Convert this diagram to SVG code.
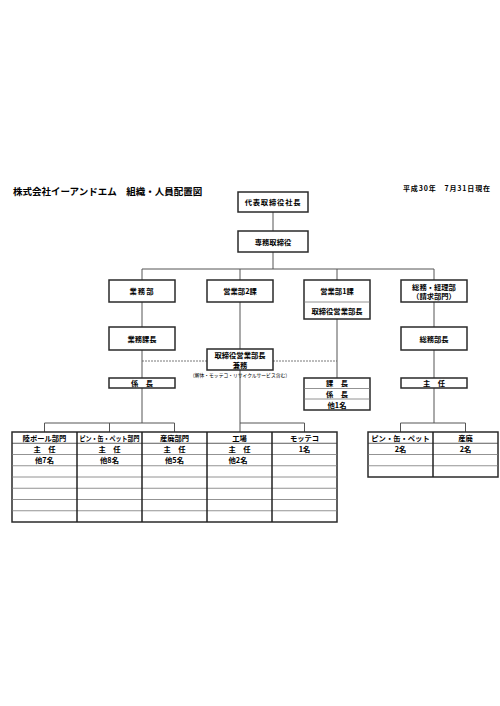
<svg xmlns="http://www.w3.org/2000/svg" width="500" height="706" viewBox="0 0 500 706">
<style>
.bx{fill:#fff;stroke:#2a2a2a;stroke-width:1.5}
.ln{stroke:#555;stroke-width:1;fill:none}
.ds{stroke:#555;stroke-width:0.8;stroke-dasharray:2 1;fill:none}
.hl{stroke:#777;stroke-width:0.8}
.vl{stroke:#222;stroke-width:1.5}
.t{font-family:"Noto Sans CJK JP","Noto Sans CJK SC",sans-serif;font-size:7.3px;font-weight:bold;text-anchor:middle;dominant-baseline:central;fill:#000}
</style>
<rect width="500" height="706" fill="#fff"/>
<g id="title"><text class="t" x="13" y="191" style="text-anchor:start;font-size:9.5px">株式会社イーアンドエム　組織・人員配置図</text></g>
<g id="date"><text class="t" x="490" y="188" style="text-anchor:end;font-size:7px" textLength="87" lengthAdjust="spacing">平成30年　7月31日現在</text></g>

<g id="connectors">
<line class="ln" x1="273" y1="212" x2="273" y2="231"/>
<line class="ln" x1="273" y1="252" x2="273" y2="269"/>
<line class="ln" x1="142" y1="269" x2="434" y2="269"/>
<line class="ln" x1="142" y1="269" x2="142" y2="280"/>
<line class="ln" x1="240" y1="269" x2="240" y2="280"/>
<line class="ln" x1="337" y1="269" x2="337" y2="280"/>
<line class="ln" x1="434" y1="269" x2="434" y2="280"/>
<line class="ln" x1="142" y1="302" x2="142" y2="327"/>
<line class="ln" x1="142" y1="350" x2="142" y2="378"/>
<line class="ln" x1="142" y1="388" x2="142" y2="423"/>
<line class="ln" x1="44.5" y1="423" x2="174.5" y2="423"/>
<line class="ln" x1="44.5" y1="423" x2="44.5" y2="432"/>
<line class="ln" x1="109.5" y1="423" x2="109.5" y2="432"/>
<line class="ln" x1="174.5" y1="423" x2="174.5" y2="432"/>
<line class="ln" x1="240" y1="302" x2="240" y2="349"/>
<line class="ln" x1="240" y1="370" x2="240" y2="432"/>
<line class="ln" x1="240" y1="423" x2="304.5" y2="423"/>
<line class="ln" x1="304.5" y1="423" x2="304.5" y2="432"/>
<line class="ln" x1="337" y1="319" x2="337" y2="378"/>
<line class="ln" x1="434" y1="302" x2="434" y2="327"/>
<line class="ln" x1="434" y1="350" x2="434" y2="378"/>
<line class="ln" x1="434" y1="388" x2="434" y2="423"/>
<line class="ln" x1="400.5" y1="423" x2="465.5" y2="423"/>
<line class="ln" x1="400.5" y1="423" x2="400.5" y2="432"/>
<line class="ln" x1="465.5" y1="423" x2="465.5" y2="432"/>
<line class="ds" x1="142" y1="361" x2="207" y2="361"/>
<line class="ds" x1="273" y1="361" x2="337" y2="361"/>
</g>

<g id="president"><rect class="bx" x="238" y="192" width="70" height="20"/><text class="t" x="273" y="202" style="letter-spacing:0.8px">代表取締役社長</text></g>
<g id="senmu"><rect class="bx" x="238" y="231" width="70" height="21"/><text class="t" x="273" y="241.5">専務取締役</text></g>

<g id="gyomubu"><rect class="bx" x="109" y="280" width="66" height="22"/><text class="t" x="142" y="291" style="letter-spacing:1px">業務部</text></g>
<g id="eigyo2"><rect class="bx" x="207" y="280" width="66" height="22"/><text class="t" x="240" y="291">営業部2課</text></g>
<g id="eigyo1"><rect class="bx" x="304" y="280" width="66" height="39"/><line class="hl" x1="304" y1="302" x2="370" y2="302"/><text class="t" x="337" y="291">営業部1課</text><text class="t" x="337" y="310.5">取締役営業部長</text></g>
<g id="somu"><rect class="bx" x="401" y="280" width="66" height="22"/><text class="t" x="434" y="286.5">総務・経理部</text><text class="t" x="434" y="296">（請求部門）</text></g>

<g id="gyomukacho"><rect class="bx" x="109" y="327" width="66" height="23"/><text class="t" x="142" y="338.5">業務課長</text></g>
<g id="somubucho"><rect class="bx" x="401" y="327" width="66" height="23"/><text class="t" x="434" y="338.5">総務部長</text></g>

<g id="kenmu"><rect class="bx" x="207" y="349" width="66" height="21"/><text class="t" x="240" y="354.5">取締役営業部長</text><text class="t" x="240" y="364.5">兼務</text><text class="t" x="240" y="374.5" style="font-size:5px;font-weight:normal" textLength="100" lengthAdjust="spacingAndGlyphs">（解体・モッテコ・リサイクルサービス含む）</text></g>

<g id="kakaricho"><rect class="bx" x="109" y="378" width="66" height="10"/><text class="t" x="142" y="383">係　長</text></g>
<g id="kacho"><rect class="bx" x="304" y="378" width="66" height="32"/><line class="hl" x1="304" y1="388.5" x2="370" y2="388.5"/><line class="hl" x1="304" y1="399" x2="370" y2="399"/><text class="t" x="337" y="383.2">課　長</text><text class="t" x="337" y="393.7">係　長</text><text class="t" x="337" y="404.5">他1名</text></g>
<g id="shunin"><rect class="bx" x="401" y="378" width="66" height="10"/><text class="t" x="434" y="383">主　任</text></g>

<g id="table-left">
<rect class="bx" x="12" y="432" width="325" height="90"/>
<line class="hl" x1="12" y1="443.25" x2="337" y2="443.25" style="stroke:#333"/>
<line class="hl" x1="12" y1="454.5" x2="337" y2="454.5"/>
<line class="hl" x1="12" y1="465.75" x2="337" y2="465.75"/>
<line class="hl" x1="12" y1="477" x2="337" y2="477"/>
<line class="hl" x1="12" y1="488.25" x2="337" y2="488.25"/>
<line class="hl" x1="12" y1="499.5" x2="337" y2="499.5"/>
<line class="hl" x1="12" y1="510.75" x2="337" y2="510.75"/>
<line class="vl" x1="77" y1="432" x2="77" y2="522"/>
<line class="vl" x1="142" y1="432" x2="142" y2="522"/>
<line class="vl" x1="207" y1="432" x2="207" y2="522"/>
<line class="vl" x1="272" y1="432" x2="272" y2="522"/>
<text class="t" x="44.5" y="437.8">陸ポール部門</text>
<text class="t" x="109.5" y="437.8" textLength="60" lengthAdjust="spacingAndGlyphs">ピン・缶・ペット部門</text>
<text class="t" x="174.5" y="437.8">産廃部門</text>
<text class="t" x="239.5" y="437.8">工場</text>
<text class="t" x="304.5" y="437.8">モッテコ</text>
<text class="t" x="44.5" y="449">主　任</text>
<text class="t" x="109.5" y="449">主　任</text>
<text class="t" x="174.5" y="449">主　任</text>
<text class="t" x="239.5" y="449">主　任</text>
<text class="t" x="304.5" y="449">1名</text>
<text class="t" x="44.5" y="460.2">他7名</text>
<text class="t" x="109.5" y="460.2">他8名</text>
<text class="t" x="174.5" y="460.2">他5名</text>
<text class="t" x="238" y="460.2">他2名</text>
</g>

<g id="table-right">
<rect class="bx" x="368" y="432" width="130" height="45"/>
<line class="hl" x1="368" y1="443.25" x2="498" y2="443.25" style="stroke:#333"/>
<line class="hl" x1="368" y1="454.5" x2="498" y2="454.5"/>
<line class="hl" x1="368" y1="465.75" x2="498" y2="465.75"/>
<line class="vl" x1="433" y1="432" x2="433" y2="477"/>
<text class="t" x="400.5" y="437.8">ピン・缶・ペット</text>
<text class="t" x="465.5" y="437.8">産廃</text>
<text class="t" x="400.5" y="449">2名</text>
<text class="t" x="465.5" y="449">2名</text>
</g>
</svg>
